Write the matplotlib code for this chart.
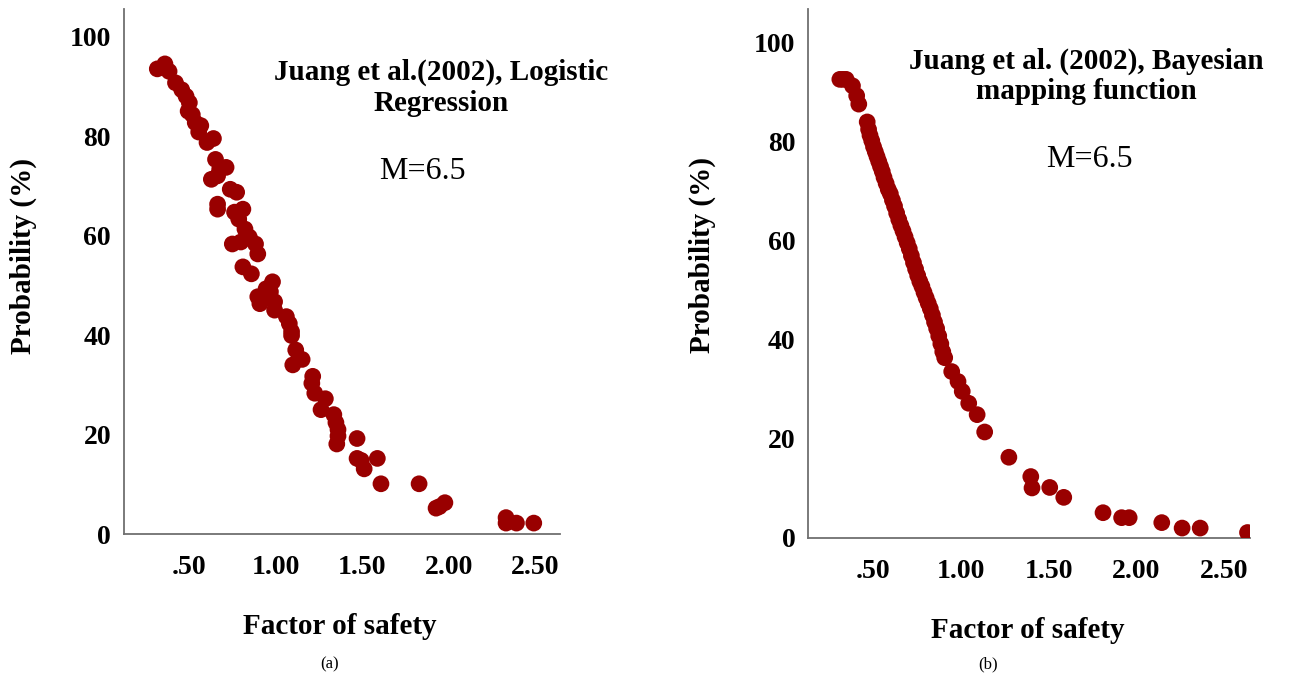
import matplotlib.pyplot as plt

# panel (a): logistic regression
fs_a = [0.317, 0.361, 0.385, 0.422, 0.458, 0.483, 0.502, 0.495, 0.519, 0.536,
        0.568, 0.556, 0.604, 0.641, 0.653, 0.677, 0.714, 0.629, 0.665, 0.665,
        0.665, 0.738, 0.775, 0.763, 0.811, 0.787, 0.823, 0.750, 0.799, 0.848,
        0.884, 0.897, 0.811, 0.860, 0.982, 0.945, 0.897, 0.909, 0.970, 0.994,
        0.994, 0.970, 1.062, 1.079, 1.092, 1.092, 1.116, 1.099, 1.153, 1.214,
        1.209, 1.226, 1.287, 1.262, 1.336, 1.348, 1.360, 1.360, 1.353, 1.470,
        1.470, 1.494, 1.511, 1.587, 1.608, 1.828, 1.926, 1.945, 1.977, 2.330,
        2.330, 2.390, 2.490]
prob_a = [93.5, 94.5, 93.0, 90.7, 89.3, 88.0, 86.7, 85.0, 84.3, 82.7,
          82.1, 80.8, 78.7, 79.5, 75.3, 73.3, 73.7, 71.3, 72.0, 66.3,
          65.3, 69.3, 68.7, 64.7, 65.3, 63.3, 61.3, 58.3, 58.7, 59.7,
          58.3, 56.3, 53.7, 52.3, 50.7, 49.3, 47.7, 46.3, 47.3, 46.7,
          45.0, 48.7, 43.7, 42.3, 40.7, 39.9, 37.0, 34.0, 35.1, 31.7,
          30.3, 28.3, 27.2, 25.0, 24.0, 22.4, 21.0, 19.7, 18.1, 19.2,
          15.2, 14.8, 13.1, 15.2, 10.1, 10.1, 5.2, 5.5, 6.3, 3.3,
          2.2, 2.2, 2.2]

# panel (b): Bayesian mapping function
fs_b = [0.308, 0.326, 0.344, 0.380, 0.404, 0.416,
        0.464, 0.472, 0.480, 0.490, 0.500, 0.510, 0.520, 0.530, 0.540, 0.550,
        0.560, 0.572, 0.584, 0.596, 0.608, 0.620, 0.632, 0.644, 0.656, 0.668,
        0.680, 0.692, 0.704, 0.716, 0.728, 0.740, 0.752, 0.764, 0.776, 0.788,
        0.800, 0.812, 0.824, 0.836, 0.848, 0.860, 0.872, 0.884, 0.895, 0.906,
        0.946, 0.982, 1.006, 1.043, 1.091, 1.134, 1.272, 1.397, 1.404, 1.505,
        1.585, 1.809, 1.915, 1.958, 2.144, 2.260, 2.363, 2.633]
prob_b = [92.6, 92.6, 92.6, 91.3, 89.3, 87.6,
          84.0, 82.5, 81.3, 80.2, 79.0, 78.0, 77.0, 76.0, 75.0, 74.0,
          72.8, 71.6, 70.4, 69.5, 68.2, 67.0, 65.6, 64.3, 63.1, 62.0,
          60.8, 59.6, 58.4, 57.0, 55.6, 54.3, 53.0, 51.8, 50.8, 49.6,
          48.5, 47.4, 46.3, 45.0, 43.6, 42.3, 40.8, 39.2, 37.6, 36.4,
          33.6, 31.6, 29.6, 27.2, 24.9, 21.4, 16.3, 12.4, 10.1, 10.2,
          8.2, 5.1, 4.1, 4.1, 3.1, 2.0, 2.0, 1.1]

xticks = [0.5, 1.0, 1.5, 2.0, 2.5]
xtick_labels = [".50", "1.00", "1.50", "2.00", "2.50"]
yticks = [0, 20, 40, 60, 80, 100]

plt.rcParams['font.family'] = ['Liberation Serif', 'DejaVu Serif']
red = '#990000'

fig = plt.figure(figsize=(13.14, 6.79), dpi=100)
ax1 = fig.add_axes([0.094, 0.2135, 0.332, 0.773])
ax2 = fig.add_axes([0.615, 0.2077, 0.336, 0.779])

panels = [
    (ax1, fs_a, prob_a, (0.122, 2.64), (0, 105.5),
     "Juang et al.(2002), Logistic\nRegression", (0.728, 0.85), (0.686, 0.69),
     (-0.23, 0.53), (0.496, -0.177)),
    (ax2, fs_b, prob_b, (0.127, 2.645), (0, 106.8),
     "Juang et al. (2002), Bayesian\nmapping function", (0.631, 0.873), (0.638, 0.715),
     (-0.24, 0.535), (0.498, -0.174)),
]

for ax, x, y, xl, yl, note, note_pos, m_pos, ylab_pos, xlab_pos in panels:
    ax.scatter(x, y, s=145, color=red, edgecolors='none', zorder=3)
    ax.set_xlim(*xl)
    ax.set_ylim(*yl)
    ax.set_xticks(xticks)
    ax.set_xticklabels(xtick_labels)
    ax.set_yticks(yticks)
    for s in ['top', 'right']:
        ax.spines[s].set_visible(False)
    for s in ['left', 'bottom']:
        ax.spines[s].set_color('#707070')
        ax.spines[s].set_linewidth(1.3)
    ax.tick_params(axis='both', length=0, labelsize=20)
    ax.tick_params(axis='x', pad=15)
    ax.tick_params(axis='y', pad=9)
    for lab in ax.get_xticklabels() + ax.get_yticklabels():
        lab.set_fontweight('bold')
    ax.set_ylabel("Probability (%)", fontsize=21, fontweight='bold', va='center')
    ax.yaxis.set_label_coords(*ylab_pos)
    ax.set_xlabel("Factor of safety", fontsize=21, fontweight='bold', va='center')
    ax.xaxis.set_label_coords(*xlab_pos)
    ax.text(note_pos[0], note_pos[1], note, transform=ax.transAxes, ha='center',
            va='center', fontsize=21, fontweight='bold', linespacing=1.15)
    ax.text(m_pos[0], m_pos[1], "M=6.5", transform=ax.transAxes, ha='center',
            va='center', fontsize=23)

fig.text(0.251, 0.022, "(a)", ha='center', va='center', fontsize=12)
fig.text(0.752, 0.022, "(b)", ha='center', va='center', fontsize=12)

plt.savefig("out.png", dpi=100)
